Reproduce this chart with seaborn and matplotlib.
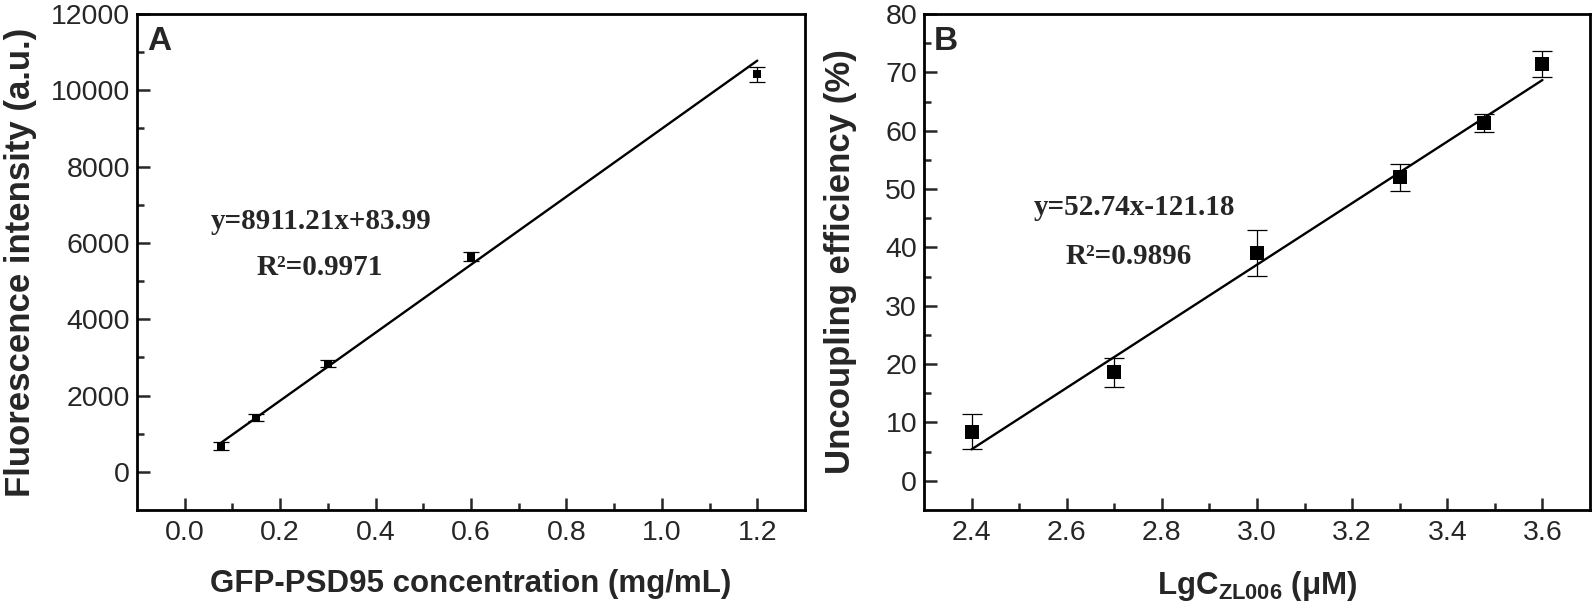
import numpy as np
import pandas as pd
import seaborn as sns
import matplotlib.pyplot as plt

# Panel A: GFP-PSD95 calibration
conc = [0.075, 0.15, 0.3, 0.6, 1.2]
fluo = [680, 1420, 2830, 5640, 10420]
fluo_err = [110, 90, 90, 120, 190]
fit_a = (8911.21, 83.99)

# Panel B: uncoupling efficiency vs lg concentration
lgc = [2.4, 2.7, 3.0, 3.3, 3.477, 3.6]
eff = [8.4, 18.6, 39.0, 52.0, 61.3, 71.4]
eff_err = [3.0, 2.5, 3.9, 2.3, 1.6, 2.2]
fit_b = (52.74, -121.18)

sns.set_theme(style="ticks")
plt.rcParams["font.family"] = ["Liberation Sans", "DejaVu Sans"]
plt.rcParams["mathtext.fontset"] = "custom"
plt.rcParams["mathtext.rm"] = "Liberation Sans"
plt.rcParams["mathtext.bf"] = "Liberation Sans:bold"

fig = plt.figure(figsize=(15.94, 6.04), dpi=100)
axA = fig.add_axes([137 / 1594, 94 / 604, 668 / 1594, 496 / 604])
axB = fig.add_axes([924 / 1594, 94 / 604, 666 / 1594, 496 / 604])


def draw_panel(ax, x, y, err, fit, msize, cap):
    df = pd.DataFrame({"x": x, "y": y})
    xs = np.array([min(x), max(x)])
    line = pd.DataFrame({"x": xs, "y": fit[0] * xs + fit[1]})
    sns.lineplot(data=line, x="x", y="y", ax=ax, color="black", lw=1.7)
    ax.errorbar(x, y, yerr=err, fmt="none", ecolor="black", elinewidth=0.9,
                capsize=cap, capthick=0.9)
    sns.scatterplot(data=df, x="x", y="y", ax=ax, marker="s", s=msize ** 2,
                    color="black", edgecolor="black", linewidth=0, zorder=3)


draw_panel(axA, conc, fluo, fluo_err, fit_a, 6, 6)
draw_panel(axB, lgc, eff, eff_err, fit_b, 10.5, 7)

axA.set_xlim(-0.1, 1.3)
axA.set_ylim(-1000, 12000)
axA.set_xticks(np.arange(0, 1.21, 0.2))
axA.set_xticks(np.arange(0.1, 1.21, 0.2), minor=True)
axA.set_yticks(np.arange(0, 12001, 2000))
axA.set_yticks(np.arange(1000, 12000, 2000), minor=True)
axA.set_xticklabels([f"{v:.1f}" for v in np.arange(0, 1.21, 0.2)])

axB.set_xlim(2.3, 3.7)
axB.set_ylim(-5, 80)
axB.set_xticks(np.arange(2.4, 3.61, 0.2))
axB.set_xticks(np.arange(2.5, 3.61, 0.2), minor=True)
axB.set_yticks(np.arange(0, 81, 10))
axB.set_yticks(np.arange(5, 80, 10), minor=True)
axB.set_xticklabels([f"{v:.1f}" for v in np.arange(2.4, 3.61, 0.2)])

for ax in (axA, axB):
    for s in ax.spines.values():
        s.set_linewidth(2.0)
        s.set_color("black")
    ax.tick_params(which="major", direction="in", length=9, width=1.8,
                   labelsize=20.5, top=False, right=False)
    ax.tick_params(axis="y", which="major", pad=5)
    ax.tick_params(axis="x", which="major", pad=7)
    ax.tick_params(which="minor", direction="in", length=5, width=1.8,
                   top=False, right=False)

axA.set_xlabel("GFP-PSD95 concentration (mg/mL)", fontsize=22.5, fontweight="bold")
axA.set_ylabel("Fluorescence intensity (a.u.)", fontsize=25, fontweight="bold")
axB.set_xlabel(r"LgC$_{\mathbf{ZL006}}$ (μM)", fontsize=22.5, fontweight="bold")
axB.set_ylabel("Uncoupling efficiency (%)", fontsize=25, fontweight="bold")
axA.xaxis.set_label_coords(0.5, -0.118)
axB.xaxis.set_label_coords(0.5, -0.118)
axA.yaxis.set_label_coords(-0.150, 0.5)
axB.yaxis.set_label_coords(-0.100, 0.5)

axA.text(0.015, 0.975, "A", transform=axA.transAxes, fontsize=24,
         fontweight="bold", va="top", ha="left")
axB.text(0.015, 0.975, "B", transform=axB.transAxes, fontsize=24,
         fontweight="bold", va="top", ha="left")

serif = ["Liberation Serif", "DejaVu Serif"]
axA.text(0.286, 6553, "y=8911.21x+83.99", family=serif, fontweight="bold",
         fontsize=21, ha="center", va="center")
axA.text(0.283, 5350, "R²=0.9971", family=serif, fontweight="bold",
         fontsize=21, ha="center", va="center")
axB.text(2.742, 46.9, "y=52.74x-121.18", family=serif, fontweight="bold",
         fontsize=21, ha="center", va="center")
axB.text(2.731, 38.4, "R²=0.9896", family=serif, fontweight="bold",
         fontsize=21, ha="center", va="center")

fig.savefig("out.png", dpi=100)
